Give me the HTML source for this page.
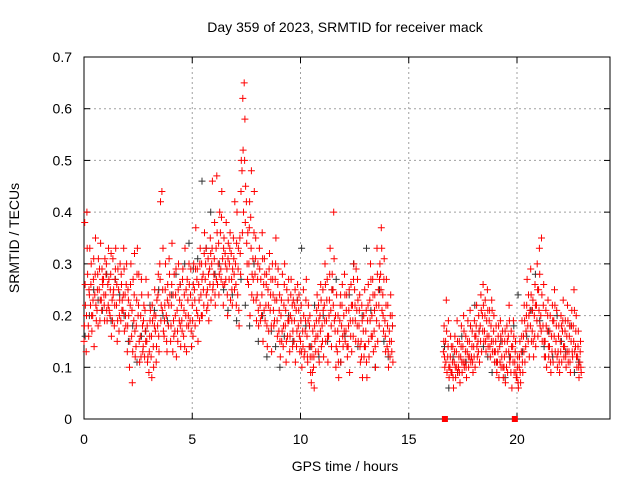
<!DOCTYPE html>
<html><head><meta charset="utf-8"><style>
body{margin:0;background:#fff;width:640px;height:480px;overflow:hidden}
text{font-family:"Liberation Sans","DejaVu Sans",sans-serif;font-size:14px;fill:#000}
</style></head><body>
<svg id="chart" width="640" height="480">
<text x="345" y="32" text-anchor="middle">Day 359 of 2023, SRMTID for receiver mack</text>
<text x="345" y="471" text-anchor="middle">GPS time / hours</text>
<text transform="translate(19,238) rotate(-90)" text-anchor="middle">SRMTID / TECUs</text>
<g id="grid"></g><g id="axes"></g><g id="marks"></g>
</svg>
<script>
const xTicks=[0,5,10,15,20];
const yTicks=[0,0.1,0.2,0.3,0.4,0.5,0.6,0.7];
const startA=0.0, startB=16.6, step=0.1;
const redA=[
[.15,.38,.22],[.13,.40,.28],[.18,.25,.33],[.22,.30,.17],[.20,.27,.14],[.24,.35,.19],[.21,.28,.31],[.25,.19,.34],[.23,.29,.26],[.27,.22,.31],
[.24,.30,.19],[.26,.33,.21],[.20,.28,.16],[.23,.31,.25],[.18,.27,.33],[.22,.15,.29],[.25,.20,.30],[.19,.26,.23],[.21,.33,.17],[.24,.18,.30],
[.13,.25,.20],[.10,.22,.30],[.16,.07,.27],[.19,.32,.12],[.14,.23,.33],[.20,.28,.11],[.16,.12,.24],[.18,.14,.22],[.12,.17,.27],[.15,.11,.24],
[.09,.16,.21],[.12,.08,.19],[.14,.20,.25],[.17,.11,.23],[.18,.28,.13],[.30,.42,.22],[.44,.25,.17],[.16,.22,.30],[.20,.13,.26],[.18,.31,.24],
[.15,.22,.34],[.13,.19,.28],[.17,.24,.12],[.21,.15,.30],[.19,.26,.14],[.22,.17,.29],[.16,.24,.33],[.20,.13,.27],[.23,.18,.26],[.19,.29,.14],
[.22,.16,.30],[.25,.18,.37],[.21,.29,.15],[.26,.19,.33],[.24,.30,.20],[.28,.22,.36],[.27,.33,.21],[.25,.31,.19],[.29,.35,.23],[.30,.46,.26],
[.28,.38,.22],[.33,.47,.26],[.30,.24,.40],[.36,.27,.44],[.31,.22,.35],[.26,.30,.38],[.29,.20,.34],[.27,.33,.23],[.32,.25,.29],[.35,.28,.42],
[.30,.22,.40],[.24,.33,.18],[.35,.28,.50],[.48,.62,.40],[.65,.58,.45],[.42,.30,.36],[.26,.37,.20],[.39,.48,.28],[.31,.23,.44],[.28,.35,.19],
[.24,.30,.18],[.33,.22,.27],[.20,.36,.15],[.26,.31,.19],[.22,.28,.14],[.25,.17,.32],[.21,.27,.13],[.30,.24,.18],[.19,.27,.35],[.23,.16,.29],
[.17,.24,.12],[.20,.15,.28],[.14,.22,.30],[.18,.11,.25],[.16,.23,.19],[.13,.20,.27],[.19,.14,.23],[.15,.22,.11],[.21,.17,.26],[.18,.24,.13],
[.15,.22,.10],[.17,.25,.12],[.13,.19,.27],[.16,.11,.22],[.14,.20,.09],[.07,.12,.17],[.10,.06,.15],[.13,.19,.24],[.16,.22,.11],[.20,.26,.14],
[.18,.25,.12],[.22,.30,.15],[.19,.27,.11],[.16,.23,.33],[.21,.14,.28],[.25,.40,.19],[.17,.10,.24],[.13,.20,.08],[.15,.22,.11],[.18,.26,.14],
[.20,.28,.15],[.17,.24,.12],[.14,.21,.09],[.19,.26,.13],[.22,.16,.30],[.25,.19,.29],[.21,.27,.15],[.18,.24,.11],[.15,.22,.08],[.17,.12,.25],
[.14,.21,.08],[.19,.26,.12],[.23,.30,.16],[.20,.27,.13],[.17,.24,.10],[.22,.33,.15],[.25,.18,.30],[.28,.37,.21],[.24,.17,.31],[.19,.13,.27],
[.14,.22,.10],[.17,.12,.24],[.15,.20,.11]];
const redA2=[
[.18,.26],[.20,.33],[.16,.24],[.26,.20],[.23,.31],[.28,.22],[.25,.18],[.29,.23],[.21,.27],[.24,.19],
[.28,.21],[.22,.27],[.25,.32],[.19,.24],[.22,.29],[.26,.19],[.17,.23],[.28,.21],[.24,.29],[.20,.26],
[.18,.23],[.15,.26],[.21,.13],[.24,.17],[.18,.28],[.22,.15],[.20,.27],[.13,.19],[.21,.15],[.18,.12],
[.13,.19],[.16,.22],[.10,.18],[.20,.14],[.24,.16],[.27,.19],[.21,.33],[.19,.25],[.15,.23],[.22,.28],
[.18,.26],[.24,.16],[.20,.29],[.17,.25],[.23,.18],[.19,.27],[.21,.14],[.25,.18],[.20,.30],[.24,.17],
[.19,.26],[.23,.29],[.27,.20],[.23,.30],[.20,.27],[.25,.32],[.30,.24],[.22,.28],[.26,.32],[.33,.25],
[.31,.24],[.27,.36],[.34,.28],[.29,.39],[.26,.33],[.32,.27],[.24,.31],[.30,.36],[.27,.22],[.31,.25],
[.26,.34],[.29,.21],[.32,.44],[.36,.52],[.50,.38],[.34,.27],[.30,.42],[.33,.24],[.27,.36],[.31,.23],
[.27,.21],[.29,.19],[.24,.31],[.21,.28],[.26,.18],[.22,.29],[.24,.18],[.27,.21],[.23,.30],[.19,.26],
[.21,.15],[.23,.17],[.18,.26],[.21,.15],[.19,.27],[.16,.24],[.22,.17],[.19,.25],[.14,.23],[.21,.16],
[.19,.13],[.14,.20],[.17,.23],[.12,.19],[.18,.12],[.14,.09],[.12,.18],[.16,.21],[.13,.19],[.17,.23],
[.15,.21],[.19,.26],[.23,.16],[.20,.28],[.18,.25],[.22,.31],[.20,.14],[.17,.11],[.19,.24],[.22,.16],
[.17,.24],[.21,.14],[.18,.25],[.16,.22],[.19,.27],[.22,.15],[.18,.23],[.21,.14],[.12,.19],[.20,.14],
[.17,.11],[.22,.15],[.19,.27],[.16,.24],[.21,.14],[.19,.28],[.22,.27],[.25,.33],[.20,.27],[.16,.22],
[.18,.13],[.15,.20],[.13,.18]];
const redB=[
[.13,.18,.10],[.15,.23,.09],[.12,.19,.08],[.10,.16,.14],
[.09,.14,.06],[.11,.16,.08],[.13,.19,.09],[.10,.15,.07],[.12,.18,.09],[.14,.20,.10],[.11,.16,.08],[.13,.19,.10],[.15,.21,.11],[.12,.17,.09],
[.14,.19,.10],[.16,.22,.12],[.15,.20,.11],[.18,.24,.13],[.20,.26,.15],[.17,.23,.13],[.19,.25,.14],[.16,.21,.12],[.18,.23,.13],[.15,.20,.11],
[.13,.18,.09],[.11,.16,.08],[.14,.19,.10],[.12,.17,.08],[.10,.15,.07],[.13,.18,.09],[.16,.22,.11],[.12,.17,.06],[.14,.19,.09],[.11,.15,.08],
[.08,.12,.06],[.10,.15,.07],[.13,.19,.09],[.16,.22,.11],[.14,.20,.27],[.18,.24,.12],[.21,.29,.15],[.17,.23,.12],[.20,.26,.14],[.22,.30,.16],
[.25,.33,.18],[.20,.35,.15],[.18,.26,.12],[.15,.21,.10],[.17,.23,.12],[.14,.20,.09],[.16,.22,.11],[.19,.25,.13],[.15,.21,.10],[.13,.18,.09],
[.15,.20,.11],[.17,.23,.12],[.14,.19,.10],[.16,.22,.11],[.13,.18,.09],[.15,.21,.12],[.18,.25,.13],[.14,.20,.10],[.12,.17,.08],[.11,.15,.09]];
const redB2=[
[.15,.12],[.11,.17],[.14,.10],[.12,.09],
[.11,.08],[.13,.10],[.10,.15],[.12,.09],[.14,.11],[.11,.17],[.13,.10],[.15,.12],[.12,.18],[.14,.11],
[.12,.16],[.18,.14],[.13,.17],[.15,.21],[.17,.22],[.20,.15],[.16,.21],[.19,.14],[.15,.21],[.17,.13],
[.15,.11],[.13,.18],[.11,.16],[.15,.10],[.12,.17],[.10,.15],[.13,.19],[.09,.14],[.11,.16],[.13,.09],
[.10,.07],[.12,.09],[.16,.11],[.13,.19],[.17,.22],[.15,.20],[.18,.24],[.21,.15],[.16,.22],[.19,.25],
[.21,.28],[.17,.24],[.22,.15],[.12,.18],[.20,.14],[.17,.11],[.13,.19],[.16,.22],[.18,.12],[.16,.11],
[.13,.18],[.19,.14],[.17,.12],[.13,.19],[.16,.11],[.18,.13],[.15,.21],[.17,.12],[.14,.10],[.13,.10]];
const blackA=[.16,.20,.25,.23,.21,.28,.19,.27,.24,.20,.15,.18,.11,.16,.17,.22,.21,.25,.20,.19,.24,.28,.26,.30,.34,.29,.31,.46,.33,.40,.28,.30,.25,.21,.24,.19,.27,.22,.18,.30,.15,.20,.12,.17,.14,.10,.16,.20,.15,.23,.33,.18,.14,.22,.12,.20,.15,.25,.27,.11,.16,.24,.30,.14,.20,.33,.21,.10,.25,.15,.12,.18];
const blackB=[.14,.06,.12,.09,.16,.11,.18,.22,.17,.14,.12,.09,.11,.15,.08,.12,.18,.24,.13,.16,.21,.28,.19,.14,.17,.12,.20,.15,.13,.18,.09,.11];
const specialX=[16.67,19.9];

const L=84,R=610,T=57,B=419;
const xs=v=>L+v*21.65, ys=v=>B-v*(B-T)/0.7;
const NS='http://www.w3.org/2000/svg';
function mk(tag,attrs,parent){const e=document.createElementNS(NS,tag);for(const k in attrs)e.setAttribute(k,attrs[k]);parent.appendChild(e);return e;}
const grid=document.getElementById('grid'),axes=document.getElementById('axes'),marks=document.getElementById('marks');
xTicks.forEach(t=>{const x=xs(t);
 if(t>0){const g=mk('line',{x1:x,x2:x,y1:T,y2:B,stroke:'#a0a0a0','stroke-dasharray':'2,3'},grid);
 
 }
 mk('line',{x1:x,x2:x,y1:B,y2:B-6,stroke:'#000'},axes);mk('line',{x1:x,x2:x,y1:T,y2:T+6,stroke:'#000'},axes);
 const tx=mk('text',{x:x,y:B+25,'text-anchor':'middle'},axes);tx.textContent=t;
 
 });
yTicks.forEach(t=>{const y=ys(t);
 if(t>0&&t<0.7){const g=mk('line',{x1:L,x2:R,y1:y,y2:y,stroke:'#a0a0a0','stroke-dasharray':'2,3'},grid);
 
 }
 mk('line',{x1:L,x2:L+6,y1:y,y2:y,stroke:'#000'},axes);mk('line',{x1:R,x2:R-6,y1:y,y2:y,stroke:'#000'},axes);
 const tx=mk('text',{x:L-12,y:y+5,'text-anchor':'end'},axes);tx.textContent=String(t);
 
 });
const fr=mk('rect',{x:L,y:T,width:R-L,height:B-T,fill:'none',stroke:'#000'},axes);


function plus(x,y){return `M${(x-3.5).toFixed(1)} ${y.toFixed(1)}h7M${x.toFixed(1)} ${(y-3.5).toFixed(1)}v7`;}
let dk='';
blackA.forEach((v,i)=>{dk+=plus(xs(startA+i*0.2+0.05),ys(v));});
blackB.forEach((v,i)=>{dk+=plus(xs(startB+i*0.2+0.05),ys(v));});
const pb=mk('path',{d:dk,stroke:'#333','stroke-width':1,fill:'none'},marks);


let dr='';
[[redA,startA,0],[redB,startB,0],[redA2,startA,0.017],[redB2,startB,0.017]].forEach(([arr,s,o])=>arr.forEach((tr,i)=>tr.forEach((v,j)=>{dr+=plus(xs(s+i*step+o+j*0.033),ys(v));})));
const pr=mk('path',{d:dr,stroke:'#f00','stroke-width':1,fill:'none'},marks);


specialX.forEach(v=>{const r=mk('rect',{x:xs(v)-3,y:B-3,width:6,height:6,fill:'#f00'},marks);
 
 });
</script>
</body></html>
